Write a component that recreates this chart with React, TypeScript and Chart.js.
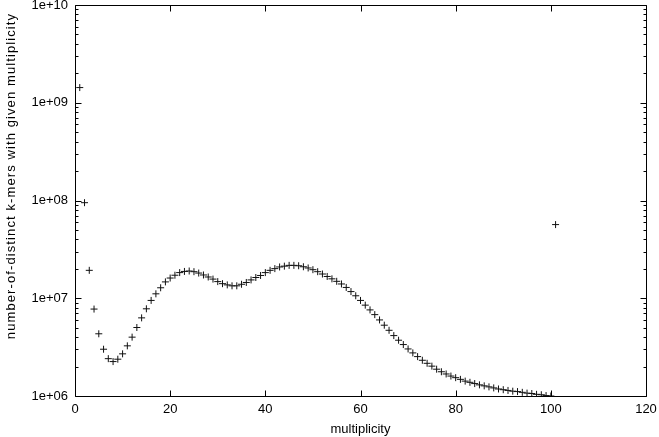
import React, { useEffect, useRef } from "react";
import { Chart, registerables } from "chart.js";

Chart.register(...registerables);

const multiplicity = [
  1, 2, 3, 4, 5, 6, 7, 8, 9, 10, 11, 12, 13, 14, 15, 16, 17, 18, 19, 20,
  21, 22, 23, 24, 25, 26, 27, 28, 29, 30, 31, 32, 33, 34, 35, 36, 37, 38, 39, 40,
  41, 42, 43, 44, 45, 46, 47, 48, 49, 50, 51, 52, 53, 54, 55, 56, 57, 58, 59, 60,
  61, 62, 63, 64, 65, 66, 67, 68, 69, 70, 71, 72, 73, 74, 75, 76, 77, 78, 79, 80,
  81, 82, 83, 84, 85, 86, 87, 88, 89, 90, 91, 92, 93, 94, 95, 96, 97, 98, 99, 100,
  101,
];

const kmerCounts = [
  1.43e9, 9.5e7, 1.93e7, 7.75e6, 4.33e6, 3.01e6, 2.41e6, 2.25e6, 2.38e6, 2.7e6,
  3.26e6, 4.0e6, 5.02e6, 6.3e6, 7.8e6, 9.5e6, 1.11e7, 1.28e7, 1.47e7, 1.61e7,
  1.72e7, 1.83e7, 1.88e7, 1.9e7, 1.87e7, 1.81e7, 1.73e7, 1.65e7, 1.57e7, 1.48e7,
  1.41e7, 1.37e7, 1.34e7, 1.34e7, 1.39e7, 1.45e7, 1.54e7, 1.63e7, 1.71e7, 1.83e7,
  1.93e7, 2.01e7, 2.09e7, 2.13e7, 2.17e7, 2.17e7, 2.15e7, 2.1e7, 2.04e7, 1.96e7,
  1.87e7, 1.77e7, 1.67e7, 1.58e7, 1.49e7, 1.4e7, 1.29e7, 1.17e7, 1.06e7, 9.5e6,
  8.5e6, 7.6e6, 6.8e6, 6.0e6, 5.3e6, 4.7e6, 4.15e6, 3.72e6, 3.36e6, 3.03e6,
  2.76e6, 2.53e6, 2.32e6, 2.16e6, 2.02e6, 1.88e6, 1.77e6, 1.68e6, 1.6e6, 1.54e6,
  1.48e6, 1.42e6, 1.38e6, 1.34e6, 1.3e6, 1.27e6, 1.24e6, 1.21e6, 1.18e6, 1.16e6,
  1.14e6, 1.12e6, 1.11e6, 1.09e6, 1.07e6, 1.06e6, 1.04e6, 1.03e6, 1.01e6, 1.0e6,
  5.67e7,
];

const xTicks = [0, 20, 40, 60, 80, 100, 120];
const yMajorTicks = [1e6, 1e7, 1e8, 1e9, 1e10];
const yMinorFactors = [2, 3, 4, 5, 6, 7, 8, 9];
const xTitle = "multiplicity";
const yTitle = "number-of-distinct k-mers with given multiplicity";

const FONT = "'Liberation Sans', Arial, sans-serif";

function fmtExp(v: number): string {
  const e = Math.round(Math.log10(v));
  return "1e+" + String(e).padStart(2, "0");
}

const frameTicks = {
  id: "frameTicks",
  afterDatasetsDraw(chart: any) {
    const { ctx, chartArea, scales } = chart;
    const { left, right, top, bottom } = chartArea;
    const x = scales.x;
    const y = scales.y;
    const L = Math.round(left) + 0.5;
    const R = Math.round(right) + 0.5;
    const T = Math.round(top) + 0.5;
    const B = Math.round(bottom) + 0.5;
    ctx.save();
    ctx.strokeStyle = "#000";
    ctx.lineWidth = 1;
    ctx.beginPath();
    for (const v of xTicks) {
      const px = Math.round(x.getPixelForValue(v)) + 0.5;
      ctx.moveTo(px, B);
      ctx.lineTo(px, B - 6);
      ctx.moveTo(px, T);
      ctx.lineTo(px, T + 6);
    }
    for (let i = 0; i < yMajorTicks.length; i++) {
      const d = yMajorTicks[i];
      const py = Math.round(y.getPixelForValue(d)) + 0.5;
      ctx.moveTo(L, py);
      ctx.lineTo(L + 6, py);
      ctx.moveTo(R, py);
      ctx.lineTo(R - 6, py);
      if (i < yMajorTicks.length - 1) {
        for (const k of yMinorFactors) {
          const pm = Math.round(y.getPixelForValue(k * d)) + 0.5;
          ctx.moveTo(L, pm);
          ctx.lineTo(L + 3, pm);
          ctx.moveTo(R, pm);
          ctx.lineTo(R - 3, pm);
        }
      }
    }
    ctx.stroke();
    ctx.beginPath();
    ctx.rect(L, T, R - L, B - T);
    ctx.stroke();

    // rotated y-axis title
    ctx.translate(11, 176);
    ctx.rotate(-Math.PI / 2);
    ctx.font = `13px ${FONT}`;
    (ctx as any).letterSpacing = "1.1px";
    ctx.fillStyle = "#000";
    ctx.textAlign = "center";
    ctx.textBaseline = "middle";
    ctx.fillText(yTitle, 0, 0);
    ctx.restore();
  },
};

export default function App() {
  const ref = useRef<HTMLCanvasElement | null>(null);

  useEffect(() => {
    if (!ref.current) return;
    const chart = new Chart(ref.current, {
      type: "scatter",
      data: {
        datasets: [
          {
            data: multiplicity.map((m, i) => ({ x: m, y: kmerCounts[i] })),
            pointStyle: "cross",
            pointRadius: 3.5,
            pointHoverRadius: 3.5,
            borderColor: "#111",
            backgroundColor: "#111",
            borderWidth: 1,
            showLine: false,
          },
        ],
      },
      options: {
        animation: false,
        responsive: false,
        devicePixelRatio: 1,
        layout: { padding: { left: 0, top: 5, right: 13, bottom: 0 } },
        plugins: {
          legend: { display: false },
          tooltip: { enabled: false },
        },
        scales: {
          x: {
            type: "linear",
            min: 0,
            max: 120,
            afterBuildTicks: (s: any) => {
              s.ticks = xTicks.map((v) => ({ value: v }));
            },
            afterFit: (s: any) => {
              s.height = 41;
              s.paddingLeft = 0;
              s.paddingRight = 0;
            },
            grid: { display: false, drawTicks: false },
            border: { display: false },
            ticks: {
              color: "#000",
              font: { family: FONT, size: 13 },
              padding: 6,
              autoSkip: false,
              maxRotation: 0,
            },
            title: {
              display: true,
              text: xTitle,
              color: "#000",
              font: { family: FONT, size: 13 },
              padding: { top: 0, bottom: 0 },
            },
          },
          y: {
            type: "logarithmic",
            min: 1e6,
            max: 1e10,
            afterBuildTicks: (s: any) => {
              s.ticks = yMajorTicks.map((v) => ({ value: v }));
            },
            afterFit: (s: any) => {
              s.width = 75;
              s.paddingTop = 0;
              s.paddingBottom = 0;
            },
            grid: { display: false, drawTicks: false },
            border: { display: false },
            ticks: {
              color: "#000",
              font: { family: FONT, size: 13 },
              padding: 7,
              autoSkip: false,
              callback: (v: any) => fmtExp(Number(v)),
            },
            title: { display: false },
          },
        },
      },
      plugins: [frameTicks],
    });
    return () => chart.destroy();
  }, []);

  return (
    <div style={{ position: "fixed", left: 0, top: 0, width: 659, height: 437, background: "#fff" }}>
      <canvas ref={ref} width={659} height={437} style={{ display: "block" }} />
    </div>
  );
}
